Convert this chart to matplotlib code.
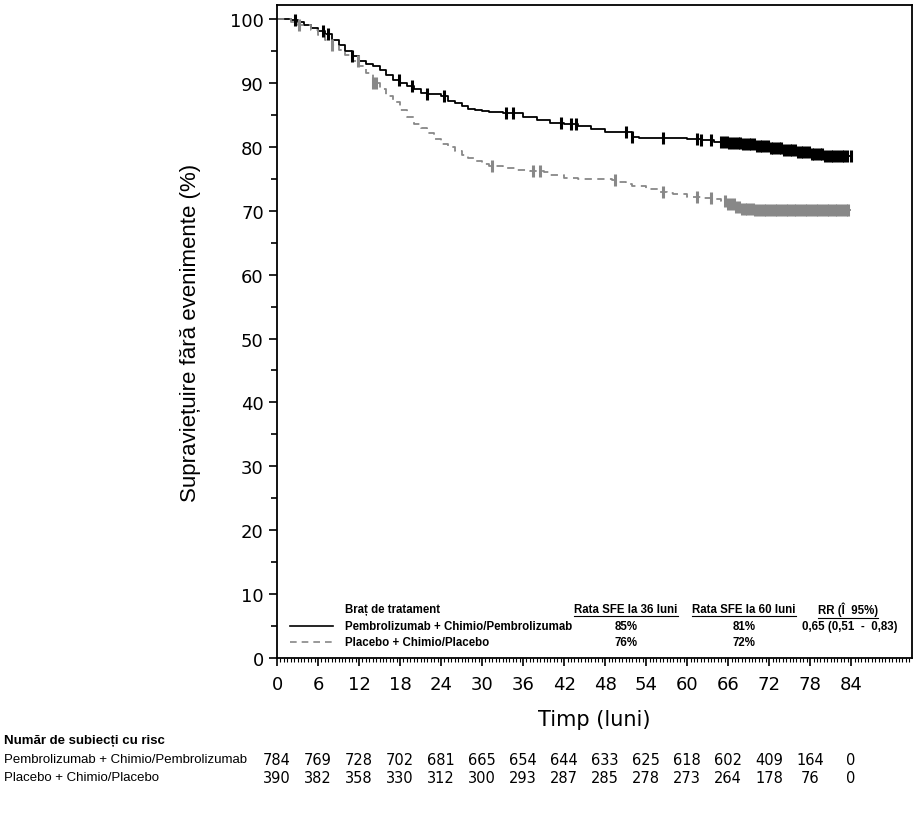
import numpy as np
import matplotlib
matplotlib.use("Agg")
import matplotlib.pyplot as plt
from matplotlib.ticker import MultipleLocator
from matplotlib.transforms import blended_transform_factory

# Kaplan-Meier step points (months, % event-free)
pem_t = [0, 2, 3, 4, 5, 6, 7, 8, 9, 10, 11, 12, 13, 14, 15, 16, 17, 18, 19, 20,
         21, 22, 24, 25, 26, 27, 28, 29, 30, 31, 33, 36, 38, 40, 42, 44, 46, 48,
         50, 52, 53, 58, 60, 62, 64, 66, 68, 70, 72, 74, 76, 78, 80, 84]
pem_s = [100, 99.8, 99.5, 99.0, 98.6, 98.2, 97.6, 96.8, 96.0, 95.0, 94.2, 93.5,
         93.0, 92.6, 92.0, 91.3, 90.5, 90.0, 89.6, 89.0, 88.5, 88.3, 88.0, 87.2,
         86.8, 86.4, 86.0, 85.8, 85.6, 85.5, 85.3, 84.6, 84.2, 83.8, 83.5, 83.2,
         82.8, 82.4, 82.3, 81.6, 81.4, 81.4, 81.2, 81.0, 80.8, 80.6, 80.4, 80.2,
         79.8, 79.5, 79.2, 78.9, 78.6, 78.6]

pla_t = [0, 2, 3, 5, 6, 7, 8, 9, 10, 11, 12, 13, 14, 15, 16, 17, 18, 19, 20, 21,
         22, 23, 24, 25, 26, 27, 28, 29, 30, 31, 33, 35, 37, 39, 40, 42, 44, 49,
         50, 51, 52, 54, 56, 57, 58, 60, 62, 64, 65, 66, 67, 68, 70, 84]
pla_s = [100, 99.6, 99.0, 98.3, 97.5, 96.8, 96.0, 95.2, 94.3, 93.5, 92.6, 91.5,
         90.0, 89.0, 88.0, 87.0, 85.8, 84.6, 83.6, 83.0, 82.2, 81.2, 80.5, 80.0,
         79.3, 78.8, 78.3, 77.8, 77.3, 77.0, 76.7, 76.4, 76.2, 76.0, 75.6, 75.2,
         75.0, 74.8, 74.5, 74.2, 73.8, 73.4, 73.0, 72.8, 72.6, 72.2, 72.0, 71.8,
         71.5, 71.0, 70.6, 70.3, 70.1, 70.1]

# censored times
pem_cens = [2.7, 6.8, 7.5, 11.0, 17.8, 19.8, 22.0, 24.5, 33.5, 34.5, 41.5, 43.0,
            43.8, 51.0, 52.0, 56.5, 61.5, 62.0, 63.5,
            65.0, 65.4, 65.8, 66.2, 66.6, 67.0, 67.4, 67.8, 68.2, 68.6, 69.0,
            69.4, 69.8, 70.2, 70.6, 71.0, 71.4, 71.8, 72.2, 72.6, 73.0, 73.4,
            73.8, 74.2, 74.6, 75.0, 75.4, 75.8, 76.2, 76.6, 77.0, 77.4, 77.8,
            78.2, 78.6, 79.0, 79.4, 79.8, 80.2, 80.6, 81.0, 81.4, 81.8, 82.2,
            82.6, 83.0, 83.4, 84.0]
pla_cens = [3.2, 8.0, 11.8, 14.0, 14.5, 31.5, 37.5, 38.5, 49.5, 56.5, 61.5, 63.5,
            65.6, 66.0, 66.4, 66.8, 67.2, 67.6, 68.0, 68.4, 68.8, 69.2, 69.6,
            70.0, 70.4, 70.8, 71.2, 71.6, 72.0, 72.4, 72.8, 73.2, 73.6, 74.0,
            74.4, 74.8, 75.2, 75.6, 76.0, 76.4, 76.8, 77.2, 77.6, 78.0, 78.4,
            78.8, 79.2, 79.6, 80.0, 80.4, 80.8, 81.2, 81.6, 82.0, 82.4, 82.8,
            83.2, 83.6]

risk_times = [0, 6, 12, 18, 24, 30, 36, 42, 48, 54, 60, 66, 72, 78, 84]
risk_pem = [784, 769, 728, 702, 681, 665, 654, 644, 633, 625, 618, 602, 409, 164, 0]
risk_pla = [390, 382, 358, 330, 312, 300, 293, 287, 285, 278, 273, 264, 178, 76, 0]

arm_labels = ["Pembrolizumab + Chimio/Pembrolizumab", "Placebo + Chimio/Placebo"]
rate36 = ["85%", "76%"]
rate60 = ["81%", "72%"]
hr_text = ["0,65 (0,51  -  0,83)", ""]

NARROW = ["Liberation Sans Narrow", "Liberation Sans", "DejaVu Sans"]
GRAY = "#888888"


def step_value(ts, ss, t):
    i = np.searchsorted(ts, t, side="right") - 1
    return np.asarray(ss)[i]


fig = plt.figure(figsize=(9.21, 8.2), dpi=100)
ax = fig.add_axes([277 / 921, 1 - 659 / 820, (912 - 277) / 921, (659 - 6) / 820])

ax.step(pem_t, pem_s, where="post", color="black", lw=1.3)
ax.step(pla_t, pla_s, where="post", color=GRAY, lw=1.3, ls=(0, (4, 3)))

ax.plot(pem_cens, step_value(pem_t, pem_s, pem_cens), ls="none", marker="|",
        ms=9, mew=2.2, color="black")
ax.plot(pla_cens, step_value(pla_t, pla_s, pla_cens), ls="none", marker="|",
        ms=9, mew=2.2, color=GRAY)

ax.set_xlim(0, 92.9)
ax.set_ylim(0, 102.2)
ax.xaxis.set_major_locator(MultipleLocator(6))
ax.xaxis.set_minor_locator(MultipleLocator(0.5))
ax.yaxis.set_major_locator(MultipleLocator(10))
ax.yaxis.set_minor_locator(MultipleLocator(5))
ax.set_xticks(risk_times)
ax.tick_params(axis="both", which="major", labelsize=13, length=6, width=1.2)
ax.tick_params(axis="x", which="major", pad=6)
ax.tick_params(axis="x", which="minor", length=3, width=0.8)
ax.tick_params(axis="y", which="minor", length=4, width=1.2)
for sp in ax.spines.values():
    sp.set_linewidth(1.3)

ax.set_xlabel("Timp (luni)", fontsize=15, labelpad=12)
ax.set_ylabel("Supraviețuire fără evenimente (%)", fontsize=16,
              family=["Liberation Sans", "DejaVu Sans"], labelpad=21)

# in-plot legend table
tfs = 8.3
fig.canvas.draw()
renderer = fig.canvas.get_renderer()
ta = ax.transAxes


def fx(px):
    return (px - 277) / (912 - 277)


def fy(py):
    return (659 - py) / (659 - 6)


def underlined(x, y, s, ha):
    t = ax.text(fx(x), fy(y), s, transform=ta, ha=ha, va="center", fontsize=tfs,
                fontweight="bold", family=NARROW)
    bb = t.get_window_extent(renderer).transformed(ta.inverted())
    ax.plot([bb.x0, bb.x1], [bb.y0 - 0.002, bb.y0 - 0.002], transform=ta,
            color="black", lw=0.8, clip_on=False)


ax.text(fx(345), fy(610), "Braț de tratament", transform=ta, ha="left",
        va="center", fontsize=tfs, fontweight="bold", family=NARROW)
underlined(626, 610, "Rata SFE la 36 luni", "center")
underlined(744, 610, "Rata SFE la 60 luni", "center")
underlined(848, 610, "RR (Î  95%)", "center")

row_y = [627, 643]
styles = [dict(color="black", ls="-"), dict(color=GRAY, ls=(0, (4, 3)))]
for i in range(2):
    ax.plot([fx(290), fx(333)], [fy(row_y[i]), fy(row_y[i])], transform=ta,
            lw=1.2, **styles[i])
    ax.text(fx(345), fy(row_y[i]), arm_labels[i], transform=ta, ha="left",
            va="center", fontsize=tfs, fontweight="bold", family=NARROW)
    ax.text(fx(626), fy(row_y[i]), rate36[i], transform=ta, ha="center",
            va="center", fontsize=tfs, fontweight="bold", family=NARROW)
    ax.text(fx(744), fy(row_y[i]), rate60[i], transform=ta, ha="center",
            va="center", fontsize=tfs, fontweight="bold", family=NARROW)
    ax.text(fx(850), fy(row_y[i]), hr_text[i], transform=ta, ha="center",
            va="center", fontsize=tfs, fontweight="bold", family=NARROW)

# numbers at risk
bt = blended_transform_factory(ax.transData, fig.transFigure)
fig.text(4 / 921, 1 - 741 / 820, "Număr de subiecți cu risc", ha="left",
         va="center", fontsize=9.5, fontweight="bold", family=NARROW)
fig.text(4 / 921, 1 - 760 / 820, arm_labels[0], ha="left", va="center",
         fontsize=9.5, family=NARROW)
fig.text(4 / 921, 1 - 778 / 820, arm_labels[1], ha="left", va="center",
         fontsize=9.5, family=NARROW)
for t, a, b in zip(risk_times, risk_pem, risk_pla):
    ax.text(t, 1 - 761 / 820, str(a), transform=bt, ha="center", va="center",
            fontsize=10.5)
    ax.text(t, 1 - 779 / 820, str(b), transform=bt, ha="center", va="center",
            fontsize=10.5)

fig.savefig("out.png", dpi=100)
